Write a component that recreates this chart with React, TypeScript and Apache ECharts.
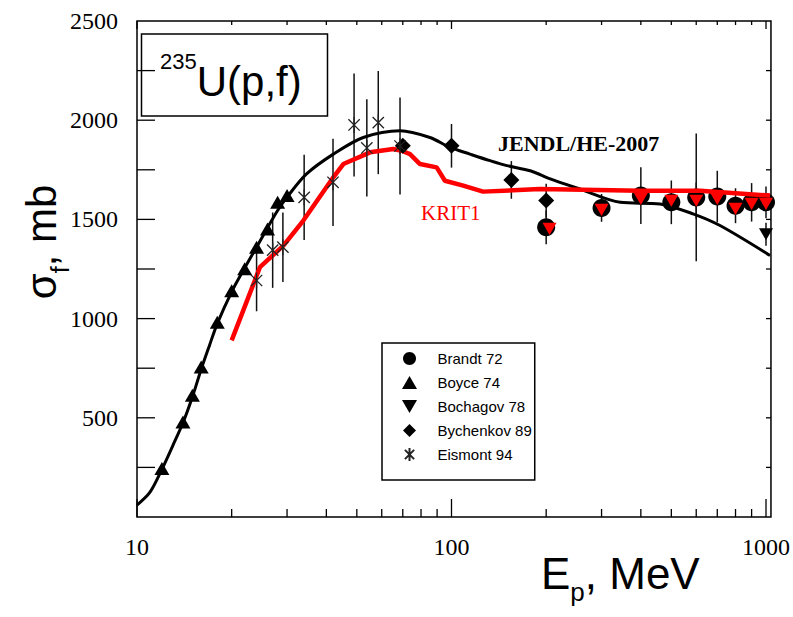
import React, { useEffect, useRef } from 'react';
import * as echarts from 'echarts';

// ---- data (energies in MeV, cross sections in mb) ----
const jendlE = [10, 11, 12, 13, 14, 15, 16, 17, 18, 20, 22, 24, 26, 28, 30, 34.6, 42.1, 52.4, 68.6, 85.4, 98.9, 114.5, 132.6, 150, 178, 206, 256, 344, 460, 586, 714, 1030];
const jendlS = [60, 125, 240, 360, 475, 605, 745, 865, 975, 1135, 1255, 1360, 1458, 1545, 1612, 1729, 1829, 1913, 1947, 1913, 1863, 1829, 1796, 1771, 1745, 1704, 1653, 1586, 1578, 1528, 1469, 1318];

const kritE = [20, 24.6, 29.2, 33.8, 42.1, 45.3, 55.1, 65.3, 69.4, 73.8, 79.4, 89.7, 95.3, 109, 126, 191, 398, 617, 1030];
const kritS = [890, 1259, 1368, 1494, 1712, 1779, 1838, 1855, 1846, 1829, 1779, 1762, 1695, 1670, 1640, 1653, 1645, 1645, 1620];

const brandtE = [200, 300, 400, 500, 600, 700, 800, 900, 1000];
const brandtS = [1460, 1558, 1620, 1586, 1611, 1615, 1569, 1586, 1586];
const brandtErr = [85, 70, 143, 110, 322, 130, 88, 97, 80];

const boyceE = [12, 14, 15, 16, 18, 20, 22, 24, 26, 28, 30];
const boyceS = [245, 479, 614, 756, 982, 1140, 1251, 1360, 1452, 1586, 1620];

const bochagovE = [205, 300, 400, 500, 600, 700, 800, 900, 1000, 1000];
const bochagovS = [1452, 1548, 1603, 1594, 1594, 1603, 1553, 1578, 1578, 1425];
const bochagovErr = [0, 0, 0, 0, 92, 0, 0, 0, 0, 58];
const bochagovRed = [true, true, true, true, true, true, true, true, true, false];

const bychenkovE = [70, 100, 155, 200];
const bychenkovS = [1871, 1871, 1699, 1595];
const bychenkovErr = [0, 110, 95, 85];

const eismontE = [24, 27, 29.1, 34, 42, 49, 53.8, 58.5, 68.6];
const eismontS = [1192, 1345, 1360, 1611, 1687, 1976, 1860, 1988, 1870];
const eismontErr = [155, 190, 175, 215, 220, 260, 245, 260, 245];

const xMajorTicks = [10, 100, 1000];
const xMinorTicks = [20, 30, 40, 50, 60, 70, 80, 90, 200, 300, 400, 500, 600, 700, 800, 900];
const yTicks = [250, 500, 750, 1000, 1250, 1500, 1750, 2000, 2250];

const X_MIN = 10;
const X_MAX = 1037;
const Y_MIN = 0;
const Y_MAX = 2500;

const seriesNames = ['Brandt 72', 'Boyce 74', 'Bochagov 78', 'Bychenkov 89', 'Eismont 94'];

const L = (e: number) => Math.log10(e);

const ASTERISK = 'path://M10,0 L10,20 M2.93,2.93 L17.07,17.07 M2.93,17.07 L17.07,2.93';
const CIRCLE = 'path://M0,10 C0,4.48 4.48,0 10,0 C15.52,0 20,4.48 20,10 C20,15.52 15.52,20 10,20 C4.48,20 0,15.52 0,10 Z';
const TRI_UP = 'path://M10,0 L20,17.3 L0,17.3 Z';
const TRI_DOWN = 'path://M0,0 L20,0 L10,17.3 Z';
const DIAMOND = 'path://M10,0 L20,10 L10,20 L0,10 Z';

export default function App() {
  const ref = useRef<HTMLDivElement>(null);

  useEffect(() => {
    if (!ref.current) return;
    const chart = echarts.init(ref.current, undefined, { renderer: 'svg' });

    const xl0 = L(X_MIN);
    const xl1 = L(X_MAX);

    // tick rows: [x, y, length, direction] ; 0 = bottom(up), 1 = top(down), 2 = left(right), 3 = right(left)
    const tickData: number[][] = [];
    xMajorTicks.forEach((e) => {
      tickData.push([L(e), Y_MIN, 18, 0]);
      tickData.push([L(e), Y_MAX, 8, 1]);
    });
    xMinorTicks.forEach((e) => {
      tickData.push([L(e), Y_MIN, 8, 0]);
      tickData.push([L(e), Y_MAX, 4, 1]);
    });
    yTicks.forEach((v) => {
      tickData.push([xl0, v, 18, 2]);
      tickData.push([xl1, v, 5, 3]);
    });

    const errData: number[][] = [];
    const addErr = (E: number[], S: number[], Er: number[]) => {
      E.forEach((e, i) => {
        if (Er[i] > 0) errData.push([L(e), S[i] - Er[i], S[i] + Er[i]]);
      });
    };
    addErr(brandtE, brandtS, brandtErr);
    addErr(bochagovE, bochagovS, bochagovErr);
    addErr(bychenkovE, bychenkovS, bychenkovErr);
    addErr(eismontE, eismontS, eismontErr);

    const pts = (E: number[], S: number[]) => E.map((e, i) => [L(e), S[i]]);

    const option: any = {
      animation: false,
      textStyle: { fontFamily: 'Liberation Sans' },
      grid: {
        left: 137, right: 22, top: 21, bottom: 100,
        show: true, borderColor: '#000', borderWidth: 1.5, backgroundColor: 'rgba(0,0,0,0)',
      },
      xAxis: {
        type: 'value', min: xl0, max: xl1, interval: 1,
        axisLine: { show: false }, axisTick: { show: false }, splitLine: { show: false },
        axisLabel: {
          showMaxLabel: false,
          margin: 18,
          fontFamily: 'Liberation Serif', fontSize: 24, color: '#000',
          formatter: (v: number) => (Math.abs(v - Math.round(v)) < 1e-6 ? String(Math.round(Math.pow(10, v))) : ''),
        },
      },
      yAxis: {
        type: 'value', min: Y_MIN, max: Y_MAX, interval: 500,
        axisLine: { show: false }, axisTick: { show: false }, splitLine: { show: false },
        axisLabel: {
          margin: 19,
          fontFamily: 'Liberation Serif', fontSize: 24, color: '#000',
          formatter: (v: number) => (v === 0 ? '' : String(v)),
        },
      },
      legend: {
        data: seriesNames,
        orient: 'vertical',
        left: 382, top: 343,
        itemWidth: 46, itemHeight: 13, itemGap: 9,
        symbolKeepAspect: true,
        padding: [8, 3, 18, 20],
        borderColor: '#000', borderWidth: 1.5,
        selectedMode: false,
        textStyle: { fontFamily: 'Liberation Sans', fontSize: 15, color: '#000' },
      },
      graphic: [
        {
          type: 'rect', shape: { x: 141.5, y: 34, width: 186, height: 82 },
          style: { fill: 'none', stroke: '#000', lineWidth: 1.5 }, z: 20,
        },
        {
          type: 'text', x: 160, y: 50, z: 20,
          style: {
            text: '{sup|235}{main|U(p,f)}',
            verticalAlign: 'top', align: 'left',
            fill: '#000',
            rich: {
              sup: { fontFamily: 'Liberation Sans', fontSize: 22, lineHeight: 22, verticalAlign: 'top', fill: '#000' },
              main: { fontFamily: 'Liberation Sans', fontSize: 42, lineHeight: 62, fill: '#000' },
            },
          },
        },
        {
          type: 'text', x: 498, y: 143.5, z: 20,
          style: {
            text: 'JENDL/HE-2007', fontFamily: 'Liberation Serif', fontWeight: 'bold', fontSize: 22,
            fill: '#000', align: 'left', verticalAlign: 'middle',
          },
        },
        {
          type: 'text', x: 421, y: 213, z: 20,
          style: {
            text: 'KRIT1', fontFamily: 'Liberation Serif', fontSize: 21,
            fill: '#ff0000', align: 'left', verticalAlign: 'middle',
          },
        },
        {
          type: 'text', x: 541, y: 551, z: 20,
          style: {
            text: '{a|E}{s|p}{a|, MeV}',
            align: 'left', verticalAlign: 'top',
            rich: {
              a: { fontFamily: 'Liberation Sans', fontSize: 44, lineHeight: 54, verticalAlign: 'top', fill: '#000' },
              s: { fontFamily: 'Liberation Sans', fontSize: 26, lineHeight: 26, verticalAlign: 'bottom', fill: '#000' },
            },
          },
        },
        {
          type: 'text', x: 46, y: 242, rotation: Math.PI / 2, z: 20,
          style: {
            text: '{a|σ}{s|f}{a|, mb}',
            align: 'center', verticalAlign: 'middle',
            rich: {
              a: { fontFamily: 'Liberation Sans', fontSize: 42, lineHeight: 52, verticalAlign: 'top', fill: '#000' },
              s: { fontFamily: 'Liberation Sans', fontSize: 25, lineHeight: 25, verticalAlign: 'bottom', fill: '#000' },
            },
          },
        },
      ],
      series: [
        {
          type: 'custom', name: 'ticks', z: 10, silent: true,
          encode: { x: 0, y: 1 },
          data: tickData,
          renderItem: (_p: any, api: any) => {
            const p = api.coord([api.value(0), api.value(1)]);
            const len = api.value(2);
            const d = api.value(3);
            let x2 = p[0];
            let y2 = p[1];
            if (d === 0) y2 -= len;
            else if (d === 1) y2 += len;
            else if (d === 2) x2 += len;
            else x2 -= len;
            return { type: 'line', shape: { x1: p[0], y1: p[1], x2, y2 }, style: { stroke: '#000', lineWidth: 1.3 } };
          },
        },
        {
          type: 'custom', name: 'errors', z: 1, silent: true,
          encode: { x: 0, y: [1, 2] },
          data: errData,
          renderItem: (_p: any, api: any) => {
            const a = api.coord([api.value(0), api.value(1)]);
            const b = api.coord([api.value(0), api.value(2)]);
            return { type: 'line', shape: { x1: a[0], y1: a[1], x2: b[0], y2: b[1] }, style: { stroke: '#111', lineWidth: 1.5 } };
          },
        },
        {
          type: 'line', name: 'JENDL/HE-2007', z: 2, symbol: 'none', smooth: 0.3,
          lineStyle: { color: '#000', width: 3 },
          data: pts(jendlE, jendlS),
        },
        {
          type: 'scatter', name: 'Brandt 72', z: 3, symbol: CIRCLE, symbolSize: 18,
          symbolKeepAspect: true,
          itemStyle: { color: '#000', opacity: 1 },
          data: pts(brandtE, brandtS),
        },
        {
          type: 'line', name: 'KRIT1', z: 4, symbol: 'none',
          lineStyle: { color: '#ff0000', width: 4.5 },
          data: pts(kritE, kritS),
        },
        {
          type: 'scatter', name: 'Bochagov 78', z: 5, symbol: TRI_DOWN, symbolSize: 14,
          symbolKeepAspect: true,
          itemStyle: { color: '#000', opacity: 1 },
          data: bochagovE.map((e, i) => ({
            value: [L(e), bochagovS[i]],
            itemStyle: { color: bochagovRed[i] ? '#ff0000' : '#000', opacity: 1 },
          })),
        },
        {
          type: 'scatter', name: 'Boyce 74', z: 5, symbol: TRI_UP, symbolSize: 15,
          symbolKeepAspect: true,
          itemStyle: { color: '#000', opacity: 1 },
          data: pts(boyceE, boyceS),
        },
        {
          type: 'scatter', name: 'Bychenkov 89', z: 5, symbol: DIAMOND, symbolSize: 16,
          symbolKeepAspect: true,
          itemStyle: { color: '#000', opacity: 1 },
          data: pts(bychenkovE, bychenkovS),
        },
        {
          type: 'scatter', name: 'Eismont 94', z: 5, symbol: ASTERISK, symbolSize: 16,
          symbolKeepAspect: true,
          itemStyle: { color: 'rgba(0,0,0,0)', borderColor: '#222', borderWidth: 1.3, opacity: 1 },
          data: pts(eismontE, eismontS),
        },
      ],
    };

    chart.setOption(option);
    return () => chart.dispose();
  }, []);

  return (
    <div
      ref={ref}
      style={{ position: 'fixed', left: 0, top: 0, width: 793, height: 617, background: '#fff' }}
    />
  );
}
